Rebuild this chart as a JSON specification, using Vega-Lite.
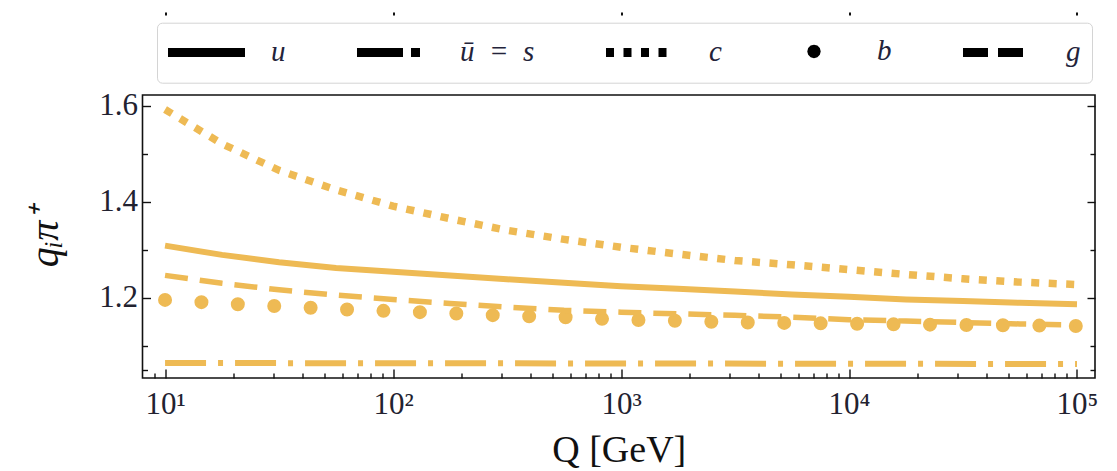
{
  "$schema": "https://vega.github.io/schema/vega-lite/v6.json",
  "width": 952.5,
  "height": 283,
  "autosize": "none",
  "padding": {"left": 142.5, "top": 95, "right": 22, "bottom": 93},
  "config": {
    "view": {"stroke": "#111111", "strokeWidth": 1.6},
    "axis": {"grid": false, "domain": false, "tickColor": "#111111", "tickWidth": 1.4, "labelFont": "Liberation Serif", "labelColor": "#222230", "titleFont": "Liberation Serif", "titleColor": "#111111", "titleFontWeight": "normal"}
  },
  "data": {
    "values": [
      {"Q": 10, "series": "u", "q": 1.309},
      {"Q": 17.783, "series": "u", "q": 1.2897},
      {"Q": 31.623, "series": "u", "q": 1.2745},
      {"Q": 56.234, "series": "u", "q": 1.2626},
      {"Q": 100, "series": "u", "q": 1.2545},
      {"Q": 177.83, "series": "u", "q": 1.2466},
      {"Q": 316.23, "series": "u", "q": 1.239},
      {"Q": 562.34, "series": "u", "q": 1.2317},
      {"Q": 1000, "series": "u", "q": 1.2243},
      {"Q": 1778.3, "series": "u", "q": 1.219},
      {"Q": 3162.3, "series": "u", "q": 1.2133},
      {"Q": 5623.4, "series": "u", "q": 1.2075},
      {"Q": 10000, "series": "u", "q": 1.2025},
      {"Q": 17783, "series": "u", "q": 1.197},
      {"Q": 31623, "series": "u", "q": 1.1938},
      {"Q": 56234, "series": "u", "q": 1.19},
      {"Q": 100000, "series": "u", "q": 1.187},
      {"Q": 10, "series": "us", "q": 1.0648},
      {"Q": 100, "series": "us", "q": 1.0643},
      {"Q": 1000, "series": "us", "q": 1.0638},
      {"Q": 10000, "series": "us", "q": 1.0632},
      {"Q": 100000, "series": "us", "q": 1.0627},
      {"Q": 10, "series": "c", "q": 1.592},
      {"Q": 17.783, "series": "c", "q": 1.5207},
      {"Q": 31.623, "series": "c", "q": 1.4654},
      {"Q": 56.234, "series": "c", "q": 1.425},
      {"Q": 100, "series": "c", "q": 1.391},
      {"Q": 177.83, "series": "c", "q": 1.365},
      {"Q": 316.23, "series": "c", "q": 1.3408},
      {"Q": 562.34, "series": "c", "q": 1.322},
      {"Q": 1000, "series": "c", "q": 1.3055},
      {"Q": 1778.3, "series": "c", "q": 1.2915},
      {"Q": 3162.3, "series": "c", "q": 1.278},
      {"Q": 5623.4, "series": "c", "q": 1.269},
      {"Q": 10000, "series": "c", "q": 1.259},
      {"Q": 17783, "series": "c", "q": 1.249},
      {"Q": 31623, "series": "c", "q": 1.24},
      {"Q": 56234, "series": "c", "q": 1.233},
      {"Q": 100000, "series": "c", "q": 1.228},
      {"Q": 10, "series": "b", "q": 1.196},
      {"Q": 17.783, "series": "b", "q": 1.1887},
      {"Q": 31.623, "series": "b", "q": 1.183},
      {"Q": 56.234, "series": "b", "q": 1.1768},
      {"Q": 100, "series": "b", "q": 1.1725},
      {"Q": 177.83, "series": "b", "q": 1.1683},
      {"Q": 316.23, "series": "b", "q": 1.163},
      {"Q": 562.34, "series": "b", "q": 1.16},
      {"Q": 1000, "series": "b", "q": 1.155},
      {"Q": 1778.3, "series": "b", "q": 1.1525},
      {"Q": 3162.3, "series": "b", "q": 1.1495},
      {"Q": 5623.4, "series": "b", "q": 1.148},
      {"Q": 10000, "series": "b", "q": 1.1465},
      {"Q": 17783, "series": "b", "q": 1.145},
      {"Q": 31623, "series": "b", "q": 1.144},
      {"Q": 56234, "series": "b", "q": 1.143},
      {"Q": 100000, "series": "b", "q": 1.1418},
      {"Q": 10, "series": "g", "q": 1.247},
      {"Q": 17.783, "series": "g", "q": 1.2305},
      {"Q": 31.623, "series": "g", "q": 1.217},
      {"Q": 56.234, "series": "g", "q": 1.206},
      {"Q": 100, "series": "g", "q": 1.197},
      {"Q": 177.83, "series": "g", "q": 1.1887},
      {"Q": 316.23, "series": "g", "q": 1.181},
      {"Q": 562.34, "series": "g", "q": 1.1743},
      {"Q": 1000, "series": "g", "q": 1.1705},
      {"Q": 1778.3, "series": "g", "q": 1.167},
      {"Q": 3162.3, "series": "g", "q": 1.164},
      {"Q": 5623.4, "series": "g", "q": 1.16},
      {"Q": 10000, "series": "g", "q": 1.155},
      {"Q": 17783, "series": "g", "q": 1.152},
      {"Q": 31623, "series": "g", "q": 1.149},
      {"Q": 56234, "series": "g", "q": 1.146},
      {"Q": 100000, "series": "g", "q": 1.144}
    ]
  },
  "layer": [
    {
      "transform": [{"filter": "false"}],
      "mark": {"type": "point", "filled": false, "color": "black", "strokeWidth": 9, "opacity": 1},
      "encoding": {
        "x": {"field": "Q", "type": "quantitative", "axis": null},
        "y": {"field": "q", "type": "quantitative", "axis": null},
        "shape": {"field": "series", "type": "nominal",
          "scale": {"domain": ["u", "us", "c", "b", "g"], "range": [
            "M-1.3462,0H4.5769",
            "M-1.3462,0H2.1923M2.8077,0H3.5",
            "M-1.3462,0H-0.7308M0,0H0.6154M1.3462,0H1.9615M2.6923,0H3.3077",
            "M1.8908,0L1.8694,0.08L1.8108,0.1386L1.7308,0.16L1.6508,0.1386L1.5922,0.08L1.5708,0L1.5922,-0.08L1.6508,-0.1386L1.7308,-0.16L1.8108,-0.1386L1.8694,-0.08Z",
            "M-1.3462,0H0.5769M1.3462,0H3.2692"
          ]},
          "legend": {
            "orient": "none", "legendX": 14.5, "legendY": -72.3, "direction": "horizontal", "title": null,
            "symbolSize": 676, "symbolStrokeWidth": 9, "symbolStrokeColor": "black", "symbolOpacity": 1,
            "labelFont": "Liberation Serif", "labelFontStyle": "italic", "labelFontSize": 29, "labelColor": "#23233a",
            "labelOffset": 68, "columnPadding": 52, "padding": 11, "strokeColor": "#d4d4d4", "fillColor": "white", "cornerRadius": 5,
            "labelExpr": "datum.value === 'us' ? 'ū\u2002=\u2002s' : datum.value"
          }}
      }
    },
    {
      "transform": [{"filter": "datum.series === 'u'"}],
      "mark": {"type": "line", "color": "#eeba54", "strokeWidth": 6, "strokeCap": "butt", "clip": true},
      "encoding": {
        "x": {"field": "Q", "type": "quantitative", "scale": {"type": "log", "domain": [7.963, 119940], "nice": false},
          "axis": {"orient": "bottom", "values": [10, 100, 1000, 10000, 100000], "tickSize": -9, "labelFlush": false, "labelOverlap": false, "labelFontSize": 31, "labelPadding": 20,
            "labelExpr": "'10' + (datum.value == 10 ? '¹' : datum.value == 100 ? '²' : datum.value == 1000 ? '³' : datum.value == 10000 ? '⁴' : '⁵')",
            "title": "Q [GeV]", "titleFontSize": 38, "titlePadding": 12}},
        "y": {"field": "q", "type": "quantitative", "scale": {"domain": [1.0336, 1.6222], "nice": false, "zero": false},
          "axis": {"orient": "left", "values": [1.2, 1.4, 1.6], "tickSize": -8, "labelFontSize": 31, "labelPadding": 13, "format": ".1f", "labelOverlap": false,
            "title": "qᵢπ⁺", "titleFontSize": 40, "titleFontStyle": "italic", "titlePadding": 33}}
      }
    },
    {
      "transform": [{"filter": "datum.series === 'us'"}],
      "mark": {"type": "line", "color": "#eeba54", "strokeWidth": 6, "strokeCap": "butt", "strokeDash": [41, 12, 5, 12], "clip": true},
      "encoding": {
        "x": {"field": "Q", "type": "quantitative",
          "axis": {"orient": "bottom", "values": [9, 20, 30, 40, 50, 60, 70, 80, 90, 200, 300, 400, 500, 600, 700, 800, 900, 2000, 3000, 4000, 5000, 6000, 7000, 8000, 9000, 20000, 30000, 40000, 50000, 60000, 70000, 80000, 90000], "tickSize": -5, "labels": false, "title": null}},
        "y": {"field": "q", "type": "quantitative",
          "axis": {"orient": "left", "values": [1.05, 1.1, 1.3, 1.5], "tickSize": -5, "labels": false, "title": null}}
      }
    },
    {
      "transform": [{"filter": "datum.series === 'c'"}],
      "mark": {"type": "line", "color": "#eeba54", "strokeWidth": 7.5, "strokeCap": "butt", "strokeDash": [8, 9.5], "clip": true},
      "encoding": {
        "x": {"field": "Q", "type": "quantitative",
          "axis": {"orient": "top", "offset": 80, "values": [10, 100, 1000, 10000, 100000], "tickSize": 3, "tickWidth": 2, "labels": false, "title": null}},
        "y": {"field": "q", "type": "quantitative",
          "axis": {"orient": "right", "values": [1.2, 1.4, 1.6], "tickSize": -8, "labels": false, "title": null}}
      }
    },
    {
      "transform": [{"filter": "datum.series === 'b'"}],
      "mark": {"type": "line", "color": "#eeba54", "strokeWidth": 14, "strokeCap": "round", "strokeDash": [0, 36.45], "clip": true},
      "encoding": {
        "x": {"field": "Q", "type": "quantitative", "axis": null},
        "y": {"field": "q", "type": "quantitative",
          "axis": {"orient": "right", "values": [1.05, 1.1, 1.3, 1.5], "tickSize": -5, "labels": false, "title": null}}
      }
    },
    {
      "transform": [{"filter": "datum.series === 'g'"}],
      "mark": {"type": "line", "color": "#eeba54", "strokeWidth": 5.5, "strokeCap": "butt", "strokeDash": [23, 12], "clip": true},
      "encoding": {
        "x": {"field": "Q", "type": "quantitative", "axis": null},
        "y": {"field": "q", "type": "quantitative", "axis": null}
      }
    }
  ]
}
